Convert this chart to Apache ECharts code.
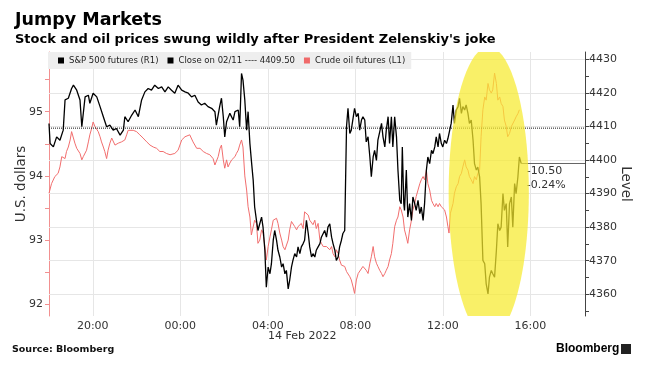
<!DOCTYPE html>
<html><head><meta charset="utf-8">
<script src="https://cdn.jsdelivr.net/npm/echarts@6/dist/echarts.min.js"></script>
<style>html,body{margin:0;padding:0;background:#fff}#c{width:647px;height:367px}</style>
</head><body><div id="c"></div>
<script>
// minutes after 18:00 on 13 Feb 2022
const spTimes = [0,3,12,21,30,39,44,53,62,67,76,85,90,99,108,112,121,131,140,149,158,167,176,185,195,204,208,217,227,236,245,254,263,272,281,290,300,309,318,327,336,345,354,364,373,382,391,400,409,418,427,436,446,455,459,468,473,478,482,487,496,505,510,519,523,528,532,537,542,546,551,555,560,564,569,573,578,583,587,592,596,601,606,610,615,619,624,628,633,638,642,647,651,656,660,665,669,674,679,683,688,692,697,701,706,711,715,720,724,729,733,738,743,747,752,756,761,765,770,775,779,784,788,793,797,802,806,811,816,820,825,829,838,843,848,852,857,861,866,870,875,880,884,889,893,898,902,907,912,916,921,925,930,934,939,943,948,953,957,962,966,969,973,975,980,984,989,994,998,1003,1007,1012,1017,1021,1026,1030,1035,1039,1044,1049,1053,1058,1062,1067,1071,1076,1080,1085,1090,1094,1099,1103,1108,1112,1117,1122,1126,1131,1135,1140,1144,1149,1153,1158,1163,1167,1172,1176,1181,1185,1190,1195,1199,1204,1208,1213,1217,1222,1227,1231,1236,1240,1245,1249,1254,1258,1263,1268,1272,1277,1281,1286,1290,1295];
const spValues = [4410.9,4404.9,4403.9,4406.9,4405.9,4408.9,4417.9,4418.4,4421.3,4422.3,4420.8,4417.9,4409.9,4418.8,4419.3,4416.9,4419.9,4418.8,4415.9,4412.9,4409.9,4410.4,4408.9,4409.4,4407.4,4408.9,4412.9,4411.4,4413.4,4414.9,4412.9,4417.9,4420.3,4421.3,4420.8,4422.3,4421.3,4421.8,4420.3,4421.8,4420.8,4419.9,4422.3,4420.8,4420.3,4419.9,4418.8,4419.3,4417.3,4416.4,4416.9,4415.9,4415.4,4414.4,4410.4,4415.9,4418.4,4412.9,4406.9,4411.4,4413.9,4411.9,4414.4,4414.9,4409.9,4425.8,4423.8,4417.9,4408.9,4414.4,4404.9,4399.9,4394.0,4386.0,4382.0,4379.0,4381.0,4383.0,4380.0,4373.1,4362.1,4368.1,4366.1,4369.1,4376.1,4379.0,4376.1,4373.1,4371.1,4368.1,4369.1,4366.1,4367.1,4361.6,4364.1,4368.1,4370.1,4372.1,4371.1,4374.1,4372.1,4374.1,4375.1,4376.1,4382.0,4378.1,4374.1,4371.1,4372.1,4371.1,4373.1,4374.1,4375.1,4377.0,4377.0,4379.0,4377.0,4380.0,4381.0,4377.0,4375.1,4373.1,4370.1,4371.1,4374.1,4376.1,4378.1,4379.0,4410.0,4415.4,4407.9,4408.9,4415.4,4412.9,4413.9,4408.9,4411.9,4412.9,4411.9,4405.4,4406.9,4400.9,4395.0,4400.9,4402.9,4399.9,4405.9,4408.4,4410.9,4406.9,4403.9,4408.9,4412.9,4404.9,4412.9,4403.9,4412.9,4406.9,4397.0,4388.0,4387.0,4403.9,4387.0,4385.0,4397.0,4383.0,4387.0,4382.0,4389.0,4387.0,4385.0,4388.0,4384.0,4386.0,4382.0,4387.0,4397.0,4400.9,4398.9,4402.9,4401.9,4403.9,4406.9,4403.9,4407.9,4404.9,4403.9,4405.9,4404.9,4406.4,4405.9,4410.9,4416.4,4410.9,4414.9,4415.9,4418.4,4413.9,4415.9,4414.9,4416.4,4413.9,4410.9,4411.9,4405.9,4398.9,4397.0,4397.9,4395.0,4387.0,4370.1,4369.1,4363.1,4360.1,4365.1,4367.1,4366.1,4365.1,4373.1,4381.0,4379.0,4380.0,4390.0,4385.0,4387.0,4374.1,4387.0,4389.0,4380.0,4393.0,4390.0,4395.0,4400.9,4399.0];
const oilTimes = [0,7,16,25,30,35,44,48,53,58,62,67,71,76,80,85,90,94,99,103,108,112,117,121,126,131,135,140,144,149,153,158,162,167,172,176,181,190,195,199,208,213,217,222,231,240,249,258,268,277,286,295,304,313,322,332,336,345,354,364,373,377,386,395,405,414,423,432,441,450,455,459,464,469,473,478,482,487,491,496,501,505,510,514,519,523,528,532,537,542,546,551,555,560,564,569,573,578,583,587,592,596,601,606,610,615,619,624,628,633,638,642,647,651,656,660,665,669,674,679,683,688,692,697,701,706,711,715,720,724,729,733,738,743,747,752,756,761,765,770,775,779,784,788,793,797,802,806,811,816,820,825,829,834,838,843,848,852,861,870,875,880,884,889,893,898,902,907,912,916,921,925,930,934,939,943,948,953,957,962,966,971,975,980,984,989,994,998,1003,1007,1012,1017,1021,1026,1030,1035,1039,1044,1049,1053,1058,1062,1067,1071,1076,1080,1085,1090,1094,1097,1101,1108,1112,1117,1122,1126,1131,1135,1140,1144,1149,1153,1158,1163,1167,1172,1176,1181,1185,1190,1195,1199,1204,1208,1213,1217,1222,1227,1231,1236,1240,1245,1249,1254,1258,1263,1268,1272,1277,1281,1286,1290];
const oilValues = [93.73,93.88,93.99,94.04,94.14,94.30,94.27,94.38,94.45,94.56,94.69,94.66,94.51,94.43,94.45,94.35,94.25,94.30,94.33,94.40,94.53,94.64,94.74,94.84,94.77,94.74,94.69,94.61,94.53,94.45,94.38,94.27,94.40,94.51,94.59,94.56,94.48,94.51,94.51,94.53,94.56,94.64,94.71,94.74,94.71,94.69,94.64,94.59,94.53,94.48,94.45,94.43,94.38,94.38,94.35,94.33,94.30,94.35,94.40,94.56,94.61,94.59,94.64,94.53,94.43,94.43,94.38,94.35,94.33,94.27,94.17,94.20,94.30,94.43,94.48,94.25,94.12,94.25,94.14,94.20,94.25,94.22,94.30,94.35,94.40,94.48,94.56,94.45,94.00,93.78,93.52,93.36,93.08,93.11,93.31,93.26,92.95,93.00,93.16,93.11,92.90,92.69,92.90,93.05,93.16,93.31,93.29,93.34,93.26,93.11,93.00,92.90,92.85,92.82,93.00,93.16,93.29,93.31,93.21,93.16,93.21,93.24,93.26,93.18,93.44,93.42,93.39,93.31,93.29,93.24,93.31,93.18,93.26,93.00,92.95,92.90,92.92,92.90,92.87,92.85,92.90,92.79,92.74,92.85,92.79,92.69,92.61,92.64,92.59,92.51,92.53,92.43,92.38,92.27,92.17,92.38,92.48,92.45,92.59,92.53,92.48,92.64,92.74,92.90,92.74,92.64,92.59,92.53,92.48,92.43,92.48,92.53,92.59,92.69,92.79,92.95,93.21,93.31,93.36,93.52,93.47,93.36,93.16,93.05,92.95,93.16,93.31,93.47,93.57,93.68,93.78,93.88,93.94,93.99,93.94,94.09,93.88,93.78,93.62,93.57,93.52,93.57,93.52,93.57,93.52,93.55,93.47,93.36,93.21,93.11,93.42,93.57,93.73,93.83,93.88,93.99,94.04,94.14,94.25,94.14,94.09,93.99,93.94,93.88,93.99,93.94,94.04,94.09,94.61,95.03,95.23,95.18,95.44,95.34,95.29,95.34,95.60,95.44,95.18,95.23,95.13,95.08,94.87,94.77,94.61,94.66,94.77,94.79,94.87,94.92,94.97,95.03];
const priorClose = 4409.50;
const xTickTimes = [120, 360, 600, 840, 1080, 1320];
const leftLabels = [92, 93, 94, 95];
const leftTicks = [92, 92.5, 93, 93.5, 94, 94.5, 95, 95.5];
const rightLabels = [4360, 4370, 4380, 4390, 4400, 4410, 4420, 4430];
const rightTicks = [4355, 4360, 4365, 4370, 4375, 4380, 4385, 4390, 4395, 4400, 4405, 4410, 4415, 4420, 4425, 4430];

const spName = 'S&P 500 futures (R1)';
const closeName = 'Close on 02/11 ---- ' + priorClose.toFixed(2);
const oilName = 'Crude oil futures (L1)';
const xMax = 1470;
const lastT = spTimes[spTimes.length - 1];
const lastV = spValues[spValues.length - 1];
const chg = lastV - priorClose;
const chgPct = chg / priorClose * 100;

const font = 'DejaVu Sans';
const chart = echarts.init(document.getElementById('c'), null, {renderer: 'canvas'});
const gridLine = {color: '#e6e6e6', width: 1, type: 'solid'};

chart.setOption({
  animation: false,
  backgroundColor: '#fff',
  title: {
    text: 'Jumpy Markets',
    subtext: "Stock and oil prices swung wildly after President Zelenskiy's joke",
    left: 10, top: 6, itemGap: 4,
    textStyle: {fontFamily: font, fontSize: 17.5, fontWeight: 'bold', color: '#000'},
    subtextStyle: {fontFamily: font, fontSize: 13, fontWeight: 'bold', color: '#000'}
  },
  legend: {
    left: 48, top: 52, selectedMode: false,
    data: [spName, closeName, oilName],
    icon: 'rect', itemWidth: 6, itemHeight: 6, itemGap: 9,
    backgroundColor: '#eeeeee', padding: [4, 6, 4, 10],
    textStyle: {fontFamily: font, fontSize: 8.5, color: '#222'}
  },
  grid: {left: 49, right: 62, top: 52, bottom: 51, containLabel: false},
  xAxis: {
    type: 'value', min: 0, max: xMax,
    axisLine: {show: false}, axisTick: {show: false}, splitLine: {show: false},
    axisLabel: {
      customValues: xTickTimes, margin: 5, fontFamily: font, fontSize: 11, color: '#333',
      formatter: v => String((18 + Math.round(v / 60)) % 24).padStart(2, '0') + ':00'
    }
  },
  yAxis: [{
    type: 'value', position: 'left', min: 91.818, max: 95.93,
    name: 'U.S. dollars', nameLocation: 'middle', nameGap: 21, nameRotate: 90, nameMoveOverlap: false,
    nameTextStyle: {fontFamily: font, fontSize: 13.5, color: '#333'},
    axisLine: {show: true, lineStyle: {color: '#f29090', width: 1}},
    axisTick: {show: true, customValues: leftTicks, length: 4, lineStyle: {color: '#f29090'}},
    axisLabel: {customValues: leftLabels, margin: 6, fontFamily: font, fontSize: 11, color: '#333',
      formatter: v => String(v)},
    splitLine: {show: false}
  }, {
    type: 'value', position: 'right', min: 4353.52, max: 4432.18,
    name: 'Level', nameLocation: 'middle', nameGap: 33, nameRotate: -90, nameMoveOverlap: false,
    nameTextStyle: {fontFamily: font, fontSize: 13.5, color: '#333'},
    axisLine: {show: true, lineStyle: {color: '#444', width: 1}},
    axisTick: {show: true, customValues: rightTicks, length: 4, lineStyle: {color: '#444'}},
    axisLabel: {customValues: rightLabels, margin: 4, fontFamily: font, fontSize: 11, color: '#333',
      formatter: v => String(v)},
    splitLine: {show: false}
  }],
  series: [{
    name: oilName, type: 'line', yAxisIndex: 0, z: 2,
    data: oilTimes.map((t, i) => [t, oilValues[i]]),
    showSymbol: false, symbol: 'none', clip: true,
    itemStyle: {color: '#f06a6a'}, lineStyle: {color: '#f26e6e', width: 1}
  }, {
    name: closeName, type: 'line', yAxisIndex: 1, z: 3,
    data: [[0, priorClose], [xMax, priorClose]],
    showSymbol: false, symbol: 'none',
    itemStyle: {color: '#000'}, lineStyle: {color: '#111', width: 1, type: 'dotted'}
  }, {
    name: spName, type: 'line', yAxisIndex: 1, z: 4,
    data: spTimes.map((t, i) => [t, spValues[i]]),
    showSymbol: false, symbol: 'none', clip: true,
    itemStyle: {color: '#000'}, lineStyle: {color: '#000', width: 1.3},
    markLine: {
      silent: true, z: 1, symbol: ['none', 'none'], label: {show: false},
      lineStyle: gridLine,
      data: xTickTimes.map(t => ({xAxis: t}))
        .concat(rightLabels.map(v => ({yAxis: v})))
        .concat([[{coord: [lastT, lastV], lineStyle: {color: '#666', width: 1, type: 'solid'}}, {coord: [xMax, lastV]}]])
    },
    markPoint: {
      silent: true, symbol: 'circle', symbolSize: 1, itemStyle: {color: 'rgba(0,0,0,0)'},
      data: [{coord: [lastT, lastV]}],
      label: {
        show: true, position: [6, 1], align: 'left', verticalAlign: 'top',
        fontFamily: font, fontSize: 11, lineHeight: 14, color: '#333',
        formatter: () => chg.toFixed(2) + '\n' + chgPct.toFixed(2) + '%'
      }
    }
  }, {
    name: 'highlight', type: 'custom', yAxisIndex: 1, z: 10, clip: true, silent: true,
    data: [[1206, 4390.4]],
    renderItem: (params, api) => {
      const c = api.coord([api.value(0), api.value(1)]);
      const e = api.coord([api.value(0) + 110, api.value(1) - 43.3]);
      return {type: 'ellipse', shape: {cx: c[0], cy: c[1], rx: Math.abs(e[0] - c[0]), ry: Math.abs(e[1] - c[1])},
        style: {fill: '#f6ea2e', opacity: 0.72}};
    }
  }],
  graphic: [
    {type: 'text', left: 268, top: 331, style: {text: '14 Feb 2022', fontFamily: font, fontSize: 11, fill: '#333'}},
    {type: 'text', left: 12, top: 345, style: {text: 'Source: Bloomberg', fontFamily: font, fontSize: 9.5, fontWeight: 'bold', fill: '#111'}},
    {type: 'text', left: 556, top: 343, style: {text: 'Bloomberg', fontFamily: 'Liberation Sans', fontSize: 12, fontWeight: 'bold', fill: '#000'}},
    {type: 'rect', left: 621, top: 344, shape: {width: 10, height: 10}, style: {fill: '#222'}}
  ]
});
</script></body></html>
